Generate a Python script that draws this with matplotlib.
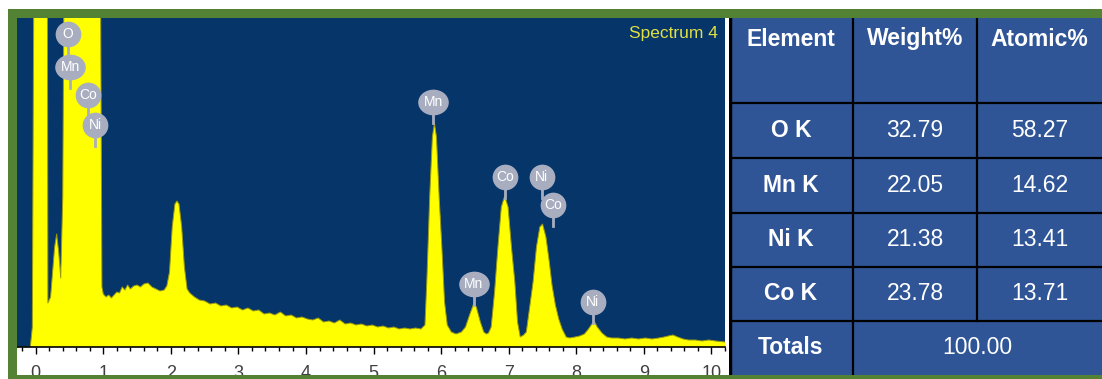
import numpy as np
import matplotlib.pyplot as plt
from matplotlib.patches import Rectangle
from matplotlib.path import Path
from matplotlib.transforms import Affine2D
from matplotlib.ticker import MultipleLocator

plt.rcParams['font.family'] = ['Liberation Sans', 'DejaVu Sans']

# Espectro EDS (energía en keV, cuentas en unidades arbitrarias)
energia = [-0.28, -0.08, -0.05, -0.02, 0.17, 0.18, 0.22, 0.28, 0.31, 0.34, 0.37, 0.40,
           0.43, 0.95, 0.98, 1.00, 1.04, 1.08, 1.12, 1.16, 1.20, 1.24, 1.28, 1.32,
           1.36, 1.40, 1.45, 1.50, 1.55, 1.60, 1.66, 1.72, 1.78, 1.84, 1.90, 1.94,
           1.98, 2.02, 2.06, 2.09, 2.12, 2.16, 2.20, 2.24, 2.28, 2.35, 2.42, 2.50,
           2.58, 2.66, 2.74, 2.82, 2.90, 2.98, 3.06, 3.14, 3.22, 3.30, 3.38, 3.46,
           3.54, 3.62, 3.70, 3.78, 3.86, 3.94, 4.02, 4.10, 4.18, 4.26, 4.34, 4.42,
           4.50, 4.58, 4.66, 4.74, 4.82, 4.90, 4.98, 5.06, 5.14, 5.22, 5.30, 5.38,
           5.46, 5.54, 5.62, 5.70, 5.76, 5.79, 5.83, 5.87, 5.90, 5.93, 5.97, 6.01,
           6.05, 6.09, 6.15, 6.22, 6.30, 6.36, 6.42, 6.48, 6.52, 6.58, 6.63, 6.67,
           6.70, 6.74, 6.79, 6.84, 6.89, 6.94, 6.99, 7.04, 7.09, 7.13, 7.17, 7.22,
           7.26, 7.31, 7.36, 7.41, 7.46, 7.50, 7.55, 7.60, 7.64, 7.69, 7.74, 7.79,
           7.85, 7.90, 7.98, 8.05, 8.12, 8.18, 8.24, 8.27, 8.31, 8.38, 8.45, 8.52,
           8.62, 8.72, 8.82, 8.92, 9.02, 9.12, 9.22, 9.30, 9.36, 9.43, 9.50, 9.58,
           9.66, 9.76, 9.86, 9.96, 10.06, 10.20]
cuentas = [0, 0, 20, 500, 500, 44, 50, 100, 113, 95, 69, 150,
           500, 500, 60, 53, 50, 52, 49, 52, 55, 54, 60, 57,
           62, 58, 61, 62, 60, 63, 64, 60, 58, 56, 57, 61,
           75, 120, 143, 146, 143, 120, 80, 58, 54, 50, 47, 46,
           43, 44, 41, 42, 39, 40, 37, 39, 36, 37, 33, 34,
           32, 35, 31, 32, 29, 30, 28, 27, 29, 25, 26, 24,
           27, 23, 24, 22, 23, 21, 22, 20, 21, 19, 20, 18,
           19, 18, 19, 18, 22, 70, 150, 210, 224, 210, 150, 100,
           45, 22, 15, 13, 15, 20, 32, 43, 40, 25, 15, 13,
           14, 20, 55, 100, 140, 151, 140, 100, 65, 25, 10, 12,
           15, 40, 65, 100, 120, 123, 110, 85, 62, 42, 28, 18,
           10, 9, 10, 11, 13, 18, 24, 25, 20, 14, 10, 9,
           9, 8, 9, 8, 9, 8, 9, 10, 11, 12, 10, 8,
           7, 7, 6, 7, 6, 5]

# Etiquetas de los picos
etiquetas = ['O', 'Mn', 'Co', 'Ni', 'Mn', 'Co', 'Ni', 'Co', 'Mn', 'Ni']
etq_e = [0.48, 0.51, 0.77, 0.88, 5.88, 6.94, 7.49, 7.65, 6.48, 8.24]
etq_h = [313, 280, 252, 222, 245, 170, 170, 142, 63, 45]

# Tabla de composición
encabezados = ['Element', 'Weight%', 'Atomic%']
elementos = ['O K', 'Mn K', 'Ni K', 'Co K']
peso = ['32.79', '22.05', '21.38', '23.78']
atomico = ['58.27', '14.62', '13.41', '13.71']
total = '100.00'

W, H = 1102, 379
fig = plt.figure(figsize=(W / 100, H / 100), dpi=100)
fig.patch.set_facecolor('white')

def caja(x0, y0, x1, y1):
    # pixeles (origen arriba a la izquierda) -> fracción de figura
    return [x0 / W, 1 - y1 / H, (x1 - x0) / W, (y1 - y0) / H]

# Espectro
ax = fig.add_axes(caja(17, 18, 725, 347))
ax.set_facecolor('#06356a')
ax.fill_between(energia, cuentas, color='#ffff00', lw=0)
ax.plot(energia, cuentas, color='#9a9a10', lw=0.7)
ax.set_xlim(-0.277, 10.20)
ax.set_ylim(0, 329)
for s in ['top', 'left', 'right']:
    ax.spines[s].set_visible(False)
ax.spines['bottom'].set_color('black')
ax.spines['bottom'].set_linewidth(1.2)
ax.set_yticks([])
ax.xaxis.set_major_locator(MultipleLocator(1))
ax.xaxis.set_minor_locator(MultipleLocator(0.2))
ax.tick_params(axis='x', which='major', length=5, width=1, color='black',
               labelsize=13, labelcolor='#404040', pad=8)
ax.tick_params(axis='x', which='minor', length=3, width=1, color='black')

ax.text(0.99, 0.975, 'Spectrum 4', transform=ax.transAxes, ha='right', va='top',
        color='#e0e040', fontsize=12.5)

# Burbujas de los picos
gris = '#a8aec0'
elipse = Affine2D().scale(1.2, 1.0).transform_path(Path.unit_circle())
for lab, e, h in zip(etiquetas, etq_e, etq_h):
    ax.plot([e, e], [h, h - 21], color=gris, lw=2, zorder=3)
    if len(lab) > 1 and lab == 'Mn':
        ax.plot(e, h, marker=elipse, ms=21, color=gris, mec=gris, zorder=4)
    else:
        ax.plot(e, h, marker='o', ms=17.5, color=gris, mec=gris, zorder=4)
    ax.text(e, h, lab, ha='center', va='center', color='white', fontsize=10, zorder=5)

# Tabla
tx0, tx1 = 729, 1102
cols = [729, 853, 977, 1102]
filas = [18, 103, 158, 213, 267, 321, 375]
at = fig.add_axes(caja(tx0, 18, tx1, 375))
at.set_xlim(tx0, tx1)
at.set_ylim(375, 18)
at.axis('off')
at.add_patch(Rectangle((tx0, 18), tx1 - tx0, 357, fc='#2f5597', ec='none'))
lk = dict(color='black', lw=1.6)
for y in filas[1:-1]:
    at.plot([tx0, tx1], [y, y], **lk)
at.plot([cols[1], cols[1]], [18, 375], **lk)
at.plot([cols[2], cols[2]], [18, filas[-2]], **lk)
at.plot([tx0 + 1, tx0 + 1], [18, 375], color='black', lw=2.5)

cx = [(cols[i] + cols[i + 1]) / 2 for i in range(3)]
fs = 16.5
for i, t in enumerate(encabezados):
    at.text(cx[i], 39, t, ha='center', va='center', color='white',
            fontsize=fs, fontweight='bold')
for j in range(4):
    yc = (filas[j + 1] + filas[j + 2]) / 2
    at.text(cx[0], yc, elementos[j], ha='center', va='center', color='white',
            fontsize=fs, fontweight='bold')
    at.text(cx[1], yc, peso[j], ha='center', va='center', color='white', fontsize=fs)
    at.text(cx[2], yc, atomico[j], ha='center', va='center', color='white', fontsize=fs)
yc = (filas[-2] + filas[-1]) / 2
at.text(cx[0], yc, 'Totals', ha='center', va='center', color='white',
        fontsize=fs, fontweight='bold')
at.text(cols[2], yc, total, ha='center', va='center', color='white', fontsize=fs)

# Marco verde
verde = '#548235'
for x0, y0, x1, y1 in [(8, 9, W, 18), (8, 9, 17, H), (8, 375, W, H)]:
    fig.add_artist(Rectangle((x0 / W, 1 - y1 / H), (x1 - x0) / W, (y1 - y0) / H,
                             transform=fig.transFigure, fc=verde, ec='none', zorder=10))

fig.savefig('out.png', dpi=100)
